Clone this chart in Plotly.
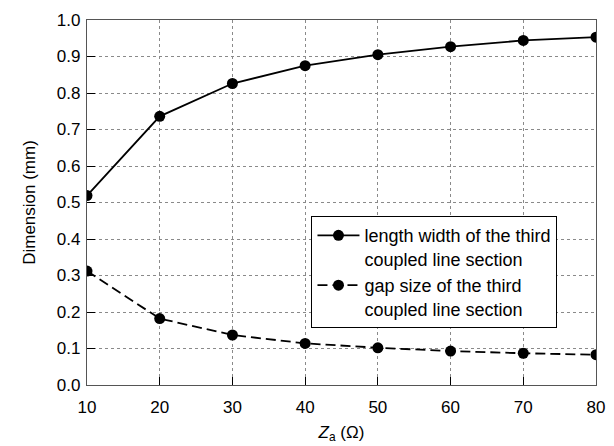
import plotly.graph_objects as go

z_a = [10, 20, 30, 40, 50, 60, 70, 80]
length_width = [0.519, 0.736, 0.826, 0.875, 0.905, 0.927, 0.944, 0.953]
gap_size = [0.312, 0.182, 0.137, 0.114, 0.102, 0.093, 0.087, 0.083]
x_ticks = [10, 20, 30, 40, 50, 60, 70, 80]
y_ticks = [0.0, 0.1, 0.2, 0.3, 0.4, 0.5, 0.6, 0.7, 0.8, 0.9, 1.0]

font = "Liberation Sans, Arial, sans-serif"

fig = go.Figure()
fig.add_trace(go.Scatter(
    x=z_a, y=length_width, mode="lines+markers",
    name="length width of the third<br>coupled line section",
    line=dict(color="black", width=1.8),
    marker=dict(color="black", size=11),
))
fig.add_trace(go.Scatter(
    x=z_a, y=gap_size, mode="lines+markers",
    name="gap size of the third<br>coupled line section",
    line=dict(color="black", width=1.8, dash="10px,5px"),
    marker=dict(color="black", size=11),
))

axis_common = dict(
    showline=True, linecolor="#555555", linewidth=1.2, mirror=True,
    ticks="inside", ticklen=8, tickcolor="black", tickwidth=1,
    showgrid=True, gridcolor="#8a8a8a", griddash="dot", gridwidth=1,
    zeroline=False, automargin=False,
    tickfont=dict(family=font, size=17, color="black"),
)

fig.update_xaxes(
    range=[10, 80], tickvals=x_ticks, ticktext=[str(v) for v in x_ticks],
    ticklabelstandoff=6,
    title=dict(text="<i>Z</i><sub>a</sub> (Ω)", font=dict(family=font, size=17, color="black"), standoff=10),
    **axis_common,
)
fig.update_yaxes(
    range=[0, 1.0], tickvals=y_ticks, ticktext=[f"{v:.1f}" for v in y_ticks],
    ticklabelstandoff=2,
    title=dict(text="Dimension (mm)", font=dict(family=font, size=17, color="black"), standoff=16),
    **axis_common,
)

fig.update_layout(
    width=614, height=446,
    margin=dict(l=78.5, r=26, t=12, b=68.5),
    plot_bgcolor="white", paper_bgcolor="white",
    font=dict(family=font, size=17, color="black"),
    showlegend=True,
    legend=dict(
        x=0.441, y=0.4626, xanchor="left", yanchor="top",
        bgcolor="white", bordercolor="black", borderwidth=1,
        font=dict(family=font, size=18, color="black"),
        valign="top", tracegroupgap=0, itemwidth=42,
    ),
)

fig.write_html("out.html")
